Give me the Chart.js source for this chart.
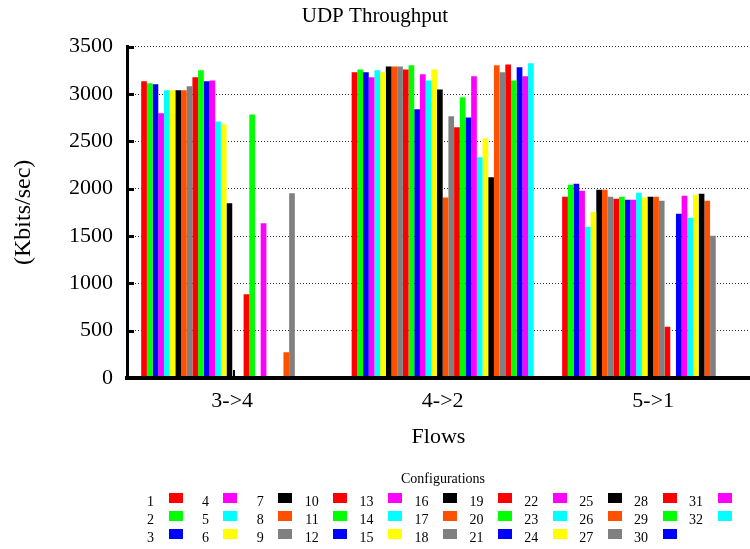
<!DOCTYPE html>
<html>
<head>
<meta charset="utf-8">
<script src="https://cdn.jsdelivr.net/npm/chart.js@4/dist/chart.umd.min.js"></script>
<style>
  html, body { margin: 0; padding: 0; background: #fff; overflow: hidden; }
  #wrap { position: relative; width: 750px; height: 549px; }
  #chart { position: absolute; left: 0; top: 0; }
  #legend { position: absolute; left: 0; top: 0; width: 750px; height: 549px; pointer-events: none;
            font-family: 'Liberation Serif', 'Times New Roman', serif; color: #000; }
  .lg-title { position: absolute; font-size: 14px; line-height: 16px; white-space: nowrap; transform: translateX(-50%); }
  .lg-label { position: absolute; font-size: 14px; line-height: 16px; width: 30px; text-align: right; }
  .lg-box { position: absolute; width: 14px; height: 10px; }
</style>
</head>
<body>
<div id="wrap">
  <canvas id="chart" width="750" height="549"></canvas>
  <div id="legend"></div>
</div>
<script>
// ---- data ----
const flows = ['3->4', '4->2', '5->1'];
const configs = ['1','2','3','4','5','6','7','8','9','10','11','12','13','14','15','16',
                 '17','18','19','20','21','22','23','24','25','26','27','28','29','30','31','32'];
// throughput (Kbits/sec) for each configuration, one array per flow
const flow34 = [3134, 3113, 3102, 2796, 3039, 3039, 3039, 3039, 3081, 3176, 3250, 3134, 3144, 2711, 2680, 1845,
                0, 0, 884, 2785, 0, 1634, 0, 0, 0, 271, 1951, 0, 0, 0, 0, 0];
const flow42 = [3229, 3260, 3229, 3176, 3250, 3229, 3292, 3292, 3292, 3260, 3303, 2838, 3208, 3144, 3260, 3049,
                1908, 2764, 2648, 2965, 2753, 3187, 2331, 2532, 2120, 3303, 3229, 3313, 3144, 3282, 3187, 3324];
const flow51 = [1915, 2042, 2053, 1979, 1599, 1757, 1989, 1989, 1915, 1894, 1915, 1884, 1884, 1958, 1908, 1915,
                1915, 1873, 542, 0, 1736, 1926, 1694, 1937, 1947, 1873, 1503, 0, 0, 0, 0, 0];
const yTickValues = [0, 500, 1000, 1500, 2000, 2500, 3000, 3500];
const palette = ['#ff0000', '#00ff00', '#0000ff', '#ff00ff', '#00ffff', '#ffff00', '#000000', '#ff5000', '#808080'];

const series = [flow34, flow42, flow51];
const FONT = "'Liberation Serif', 'Times New Roman', serif";

const datasets = configs.map((name, i) => ({
  label: name,
  data: flows.map((f, j) => ({ x: j, y: series[j][i] })),
  backgroundColor: palette[i % palette.length],
  borderWidth: 0,
  inflateAmount: 0,
  barThickness: 5.69
}));

// inward tick marks like the original plot (drawn behind the bars)
const innerTicks = {
  id: 'innerTicks',
  beforeDatasetsDraw(chart) {
    const { ctx, chartArea, scales } = chart;
    ctx.save();
    ctx.strokeStyle = '#000';
    ctx.lineWidth = 3;
    scales.y.ticks.forEach(t => {
      const y = Math.round(scales.y.getPixelForValue(t.value)) + 0.5;
      ctx.beginPath();
      ctx.moveTo(chartArea.left, y);
      ctx.lineTo(chartArea.left + 7, y);
      ctx.stroke();
    });
    ctx.lineWidth = 2;
    scales.x.ticks.forEach(t => {
      const x = Math.round(scales.x.getPixelForValue(t.value)) + 2;
      ctx.beginPath();
      ctx.moveTo(x, chartArea.bottom);
      ctx.lineTo(x, chartArea.bottom - 8);
      ctx.stroke();
    });
    ctx.restore();
  }
};

Chart.defaults.font.family = FONT;
Chart.defaults.color = '#000';

const chart = new Chart(document.getElementById('chart'), {
  type: 'bar',
  data: { datasets },
  plugins: [innerTicks],
  options: {
    responsive: false,
    animation: false,
    devicePixelRatio: 1,
    layout: { padding: { top: 0, left: 0, right: 0, bottom: 96 } },
    plugins: {
      legend: { display: false },
      tooltip: { enabled: false },
      title: {
        display: true,
        text: 'UDP Throughput',
        color: '#000',
        font: { family: FONT, size: 21, weight: 'normal' },
        padding: { top: 4, bottom: 17.5 }
      }
    },
    scales: {
      x: {
        type: 'linear',
        offset: false,
        min: -0.5,
        max: 2.46,
        ticks: {
          stepSize: 1,
          includeBounds: false,
          autoSkip: false,
          maxRotation: 0,
          padding: 10,
          color: '#000',
          font: { family: FONT, size: 22 },
          callback: v => (flows[v] !== undefined ? flows[v] : '')
        },
        grid: { display: false, drawTicks: false },
        border: { display: true, color: '#000', width: 4, z: 1 },
        title: {
          display: true,
          text: 'Flows',
          color: '#000',
          font: { family: FONT, size: 22 },
          padding: { top: 0, bottom: 3 }
        },
        afterFit(s) { s.height = 75; }
      },
      y: {
        min: 0,
        max: 3500,
        afterBuildTicks(s) { s.ticks = yTickValues.map(v => ({ value: v })); },
        ticks: {
          padding: 14,
          color: '#000',
          font: { family: FONT, size: 22 },
          callback: v => String(v)
        },
        grid: { color: '#333', lineWidth: 1, drawTicks: false },
        border: { display: true, color: '#000', width: 3, dash: [1, 2], z: 1 },
        title: {
          display: true,
          text: '(Kbits/sec)',
          color: '#000',
          font: { family: FONT, size: 24 },
          padding: { top: 9, bottom: 0 }
        },
        afterFit(s) { s.width = 127; }
      }
    }
  }
});

// HTML legend built from the chart's datasets (column-major, 3 rows)
(function buildLegend() {
  const el = document.getElementById('legend');
  const title = document.createElement('div');
  title.className = 'lg-title';
  title.textContent = 'Configurations';
  title.style.left = '443px';
  title.style.top = '471px';
  el.appendChild(title);
  chart.data.datasets.forEach((ds, i) => {
    const col = Math.floor(i / 3), row = i % 3;
    const boxLeft = 168.5 + col * 54.9;
    const boxTop = 493 + row * 18;
    const lab = document.createElement('div');
    lab.className = 'lg-label';
    lab.textContent = ds.label;
    lab.style.left = (boxLeft - 14.5 - 30) + 'px';
    lab.style.top = (boxTop + 1) + 'px';
    el.appendChild(lab);
    const box = document.createElement('div');
    box.className = 'lg-box';
    box.style.left = boxLeft + 'px';
    box.style.top = boxTop + 'px';
    box.style.background = ds.backgroundColor;
    el.appendChild(box);
  });
})();
</script>
</body>
</html>
